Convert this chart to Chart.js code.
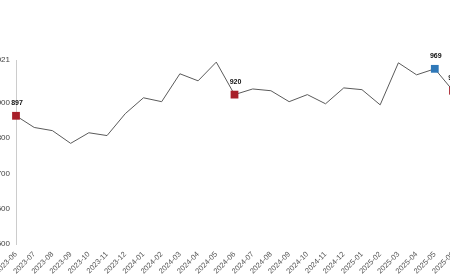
<!DOCTYPE html>
<html>
<head>
<meta charset="utf-8">
<script src="https://cdn.jsdelivr.net/npm/chart.js@4"></script>
<style>
  html, body { margin: 0; padding: 0; background: #fff; overflow: hidden; width: 450px; height: 280px; }
  #wrap { position: absolute; left: -24px; top: 0; width: 500px; height: 280px; }
</style>
</head>
<body>
<div id="wrap"><canvas id="c"></canvas></div>
<script>
const categories = ["2023-06","2023-07","2023-08","2023-09","2023-10","2023-11","2023-12",
  "2024-01","2024-02","2024-03","2024-04","2024-05","2024-06","2024-07","2024-08","2024-09",
  "2024-10","2024-11","2024-12","2025-01","2025-02","2025-03","2025-04","2025-05","2025-06"];
const values = [863, 830, 821, 785, 815, 807, 869, 914, 903, 982, 962, 1015, 923, 939, 934, 903,
  923, 897, 942, 937, 894, 1013, 979, 996, 934];
const yTicks = [500, 600, 700, 800, 900, 1021];
// highlighted points: index -> label text
const markerIdx = [0, 12, 23, 24];
const markerLabels = ["897", "920", "969", "953"];
const markerColors = ["#a8202a", "#a8202a", "#2f78b8", "#a8202a"];

const pointRadius = values.map((v, i) => markerIdx.includes(i) ? 5.5 : 0);
const pointBg = values.map((v, i) => { const k = markerIdx.indexOf(i); return k >= 0 ? markerColors[k] : "#555"; });

const labelPlugin = {
  id: 'markerLabels',
  afterDatasetsDraw(chart) {
    const ctx = chart.ctx;
    const meta = chart.getDatasetMeta(0);
    ctx.save();
    ctx.font = "bold 7px 'Liberation Sans', Arial, sans-serif";
    ctx.fillStyle = "#111";
    ctx.textAlign = "center";
    ctx.textBaseline = "middle";
    markerIdx.forEach((idx, k) => {
      const el = meta.data[idx];
      ctx.fillText(markerLabels[k], el.x + 1, el.y - 13);
    });
    ctx.restore();
  }
};

new Chart(document.getElementById('c'), {
  type: 'line',
  data: {
    labels: categories,
    datasets: [{
      data: values,
      borderColor: '#5a5a5a',
      borderWidth: 1,
      tension: 0,
      pointStyle: 'rect',
      pointRadius: pointRadius,
      pointHoverRadius: pointRadius,
      pointBackgroundColor: pointBg,
      pointBorderColor: pointBg,
      pointBorderWidth: 0,
      clip: false
    }]
  },
  options: {
    responsive: true,
    maintainAspectRatio: false,
    animation: false,
    layout: { padding: { top: 60, right: 23, bottom: 0, left: 0 } },
    plugins: { legend: { display: false }, tooltip: { enabled: false } },
    scales: {
      x: {
        offset: false,
        grid: { display: false, drawTicks: false },
        border: { display: false },
        ticks: {
          autoSkip: false, minRotation: 45, maxRotation: 45, padding: 6,
          color: '#555', font: { family: "'Liberation Sans', Arial, sans-serif", size: 7.5 }
        },
        afterFit(s) { s.height = 36; }
      },
      y: {
        min: 500, max: 1021,
        grid: { display: false, drawTicks: false },
        border: { display: true, color: '#ccc', width: 1 },
        afterBuildTicks(s) { s.ticks = yTicks.map(v => ({ value: v })); },
        ticks: {
          padding: 6, color: '#444',
          font: { family: "'Liberation Sans', Arial, sans-serif", size: 8 }
        },
        afterFit(s) { s.width = 40; }
      }
    }
  },
  plugins: [labelPlugin]
});
</script>
</body>
</html>
